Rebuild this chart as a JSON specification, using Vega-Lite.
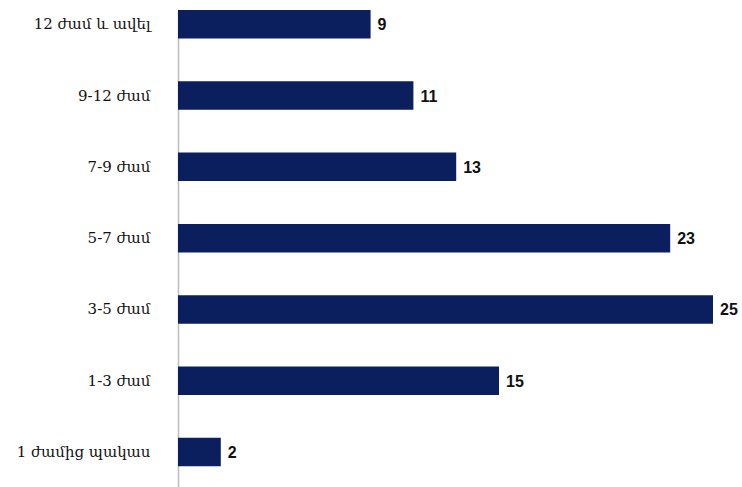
{
  "$schema": "https://vega.github.io/schema/vega-lite/v6.json",
  "autosize": {"type": "none"},
  "width": 535,
  "height": 477,
  "padding": {"left": 178, "top": 10, "right": 29, "bottom": 0},
  "background": "white",
  "config": {"view": {"stroke": null}},
  "data": {"values": [
    {"cat": "12 ժամ և ավել", "v": 9},
    {"cat": "9-12 ժամ", "v": 11},
    {"cat": "7-9 ժամ", "v": 13},
    {"cat": "5-7 ժամ", "v": 23},
    {"cat": "3-5 ժամ", "v": 25},
    {"cat": "1-3 ժամ", "v": 15},
    {"cat": "1 ժամից պակաս", "v": 2}
  ]},
  "encoding": {
    "y": {"field": "cat", "type": "nominal", "sort": null,
      "scale": {"paddingInner": 0.6, "paddingOuter": 0.145, "align": 0},
      "axis": {"title": null, "ticks": false, "domainColor": "#bdbdbd", "domainWidth": 1.5,
        "labelFont": "DejaVu Serif", "labelFontSize": 15, "labelColor": "#111", "labelPadding": 28}},
    "x": {"field": "v", "type": "quantitative", "scale": {"domain": [0, 25], "nice": false}, "axis": null}
  },
  "layer": [
    {"mark": {"type": "bar", "color": "#0b1f5e"}},
    {"mark": {"type": "text", "align": "left", "dx": 7, "dy": 1, "font": "Liberation Sans", "fontWeight": "bold", "fontSize": 16, "color": "#111"},
     "encoding": {"text": {"field": "v", "type": "quantitative"}}}
  ]
}
